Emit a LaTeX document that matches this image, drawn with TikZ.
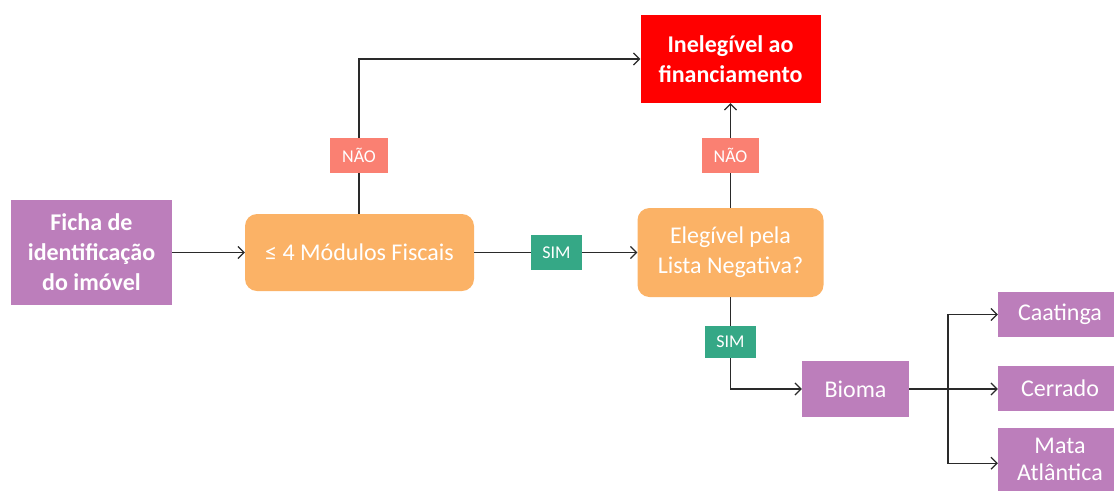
\documentclass[tikz,border=0pt]{standalone}
\usepackage{fontspec}
\setmainfont{Carlito}
\usetikzlibrary{arrows.meta}
\definecolor{cpurple}{HTML}{BC7EBB}
\definecolor{corange}{HTML}{FBB266}
\definecolor{cgreen}{HTML}{35A886}
\definecolor{csalmon}{HTML}{FA8072}
\definecolor{cred}{HTML}{FF0000}
\definecolor{cline}{HTML}{2A2A2A}
\tikzset{
  box/.style={fill=cpurple, text=white, inner sep=0pt, align=center,
    font=\fontsize{24}{30}\selectfont},
  roundbox/.style={fill=corange, text=white, inner sep=0pt, align=center,
    rounded corners=12pt, font=\fontsize{24}{30}\selectfont},
  simlabel/.style={fill=cgreen, text=white, inner sep=0pt, font=\fontsize{18}{20}\selectfont},
  naolabel/.style={fill=csalmon, text=white, inner sep=0pt, font=\fontsize{18}{20}\selectfont},
  conn/.style={draw=cline, line width=1.2pt},
  arr/.style={conn, -{Straight Barb[length=6pt,width=12pt,line width=1.2pt]}}
}
\begin{document}
\begin{tikzpicture}[x=1pt,y=-1pt]
\useasboundingbox (0,0) rectangle (1114,491);
\clip (0,0) rectangle (1114,491);
\node[box, font=\fontsize{24}{30}\selectfont\bfseries, minimum width=161pt, minimum height=105pt] (ficha) at (91.5,252.5) {Ficha de\\identificação\\do imóvel};
\node[roundbox, minimum width=229pt, minimum height=77pt] (mod) at (359.5,252.5) {≤ 4 Módulos Fiscais};
\node[roundbox, minimum width=186pt, minimum height=89pt] (eleg) at (730.5,252.5) {Elegível pela\\Lista Negativa?};
\node[fill=cred, text=white, inner sep=0pt, align=center, font=\fontsize{24}{30}\selectfont\bfseries, minimum width=180pt, minimum height=88pt] (inel) at (730.5,59) {Inelegível ao\\financiamento};
\node[naolabel, minimum width=58pt, minimum height=35pt] (nao1) at (359,155.5) {NÃO};
\node[naolabel, minimum width=57pt, minimum height=35pt] (nao2) at (730.5,155.5) {NÃO};
\node[simlabel, minimum width=51pt, minimum height=35pt] (sim1) at (556.5,252.5) {SIM};
\node[simlabel, minimum width=51pt, minimum height=32pt] (sim2) at (730.5,342) {SIM};
\node[box, minimum width=107pt, minimum height=56pt] (bioma) at (855.5,389) {Bioma};
\node[box, minimum width=124pt, minimum height=45pt] (caat) at (1060,314.5) {Caatinga};
\node[box, minimum width=124pt, minimum height=45pt] (cerr) at (1060,388) {Cerrado};
\node[box, minimum width=124pt, minimum height=63pt, anchor=north, font=\fontsize{24}{27}\selectfont] (mata) at (1060,428) {Mata\\Atlântica};
\coordinate (br) at (948,389);

\draw[arr] (ficha.east) -- (mod.west);
\draw[conn] (mod.north -| nao1) -- (nao1.south);
\draw[arr] (nao1.north) |- (inel.west);
\draw[conn] (mod.east) -- (sim1.west);
\draw[arr] (sim1.east) -- (sim1.east -| eleg.west);
\draw[conn] (eleg.north) -- (nao2.south);
\draw[arr] (nao2.north) -- (inel.south);
\draw[conn] (eleg.south) -- (sim2.north);
\draw[arr] (sim2.south) |- (bioma.west);
\draw[conn] (bioma.east) -- (br);
\draw[arr] (br) |- (caat.west);
\draw[arr] (br) -- (br -| cerr.west);
\draw[arr] (br) |- ([yshift=-3.5pt]mata.west);
\end{tikzpicture}
\end{document}
